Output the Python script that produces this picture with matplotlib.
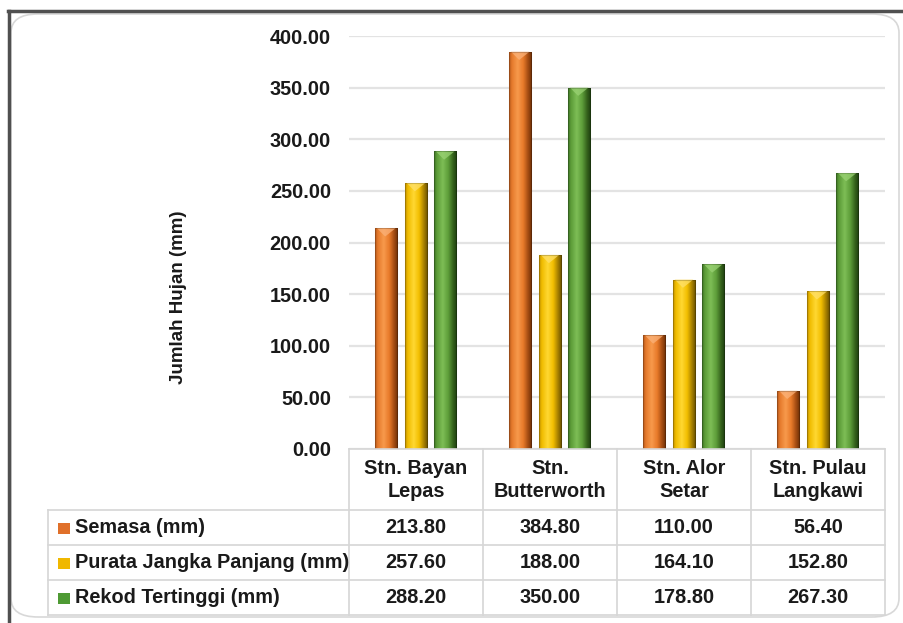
import matplotlib
matplotlib.use("Agg")
import matplotlib.pyplot as plt
import numpy as np
from matplotlib.colors import LinearSegmentedColormap
from matplotlib.patches import Polygon, Rectangle, FancyBboxPatch
from matplotlib.lines import Line2D
from matplotlib.transforms import blended_transform_factory

# rainfall per station (mm)
stations = ["Stn. Bayan\nLepas", "Stn.\nButterworth", "Stn. Alor\nSetar", "Stn. Pulau\nLangkawi"]
series_names = ["Semasa (mm)", "Purata Jangka Panjang (mm)", "Rekod Tertinggi (mm)"]
semasa = [213.80, 384.80, 110.00, 56.40]
purata = [257.60, 188.00, 164.10, 152.80]
rekod = [288.20, 350.00, 178.80, 267.30]
yticks = [0, 50, 100, 150, 200, 250, 300, 350, 400]

# left edge, base, highlight, base, dark edge, darkest
shades = [
    ["#B85A1C", "#E57A2C", "#F89A4C", "#E87A2A", "#A44C12", "#6E3008"],
    ["#C29200", "#F0BC00", "#FFD832", "#F2BE00", "#A47E00", "#6A5200"],
    ["#3F7426", "#5C9C38", "#7EBE56", "#5E9E3A", "#35621C", "#1F3E10"],
]
cap_colors = ["#FBB27A", "#FFE06A", "#9AD274"]
key_colors = ["#E0702A", "#F0B800", "#4E9A34"]

plt.rcParams["font.family"] = "Liberation Sans"
plt.rcParams["font.weight"] = "bold"
txt_c = "#1A1A1A"
fs = 14.3

W, H = 904, 623
fig = plt.figure(figsize=(W / 100, H / 100), dpi=100)

# outer frame and rounded chart area
fig.add_artist(Line2D([8 / W, 1], [1 - 11 / H, 1 - 11 / H], transform=fig.transFigure,
                      color="#505050", lw=2.5))
fig.add_artist(Line2D([9 / W, 9 / W], [0, 1 - 11 / H], transform=fig.transFigure,
                      color="#505050", lw=2.5))
fig.add_artist(FancyBboxPatch((11 / W, 6 / H), 888 / W, 603 / H, transform=fig.transFigure,
                              boxstyle="round,pad=0,rounding_size=0.03", fc="none",
                              ec="#D8D8D8", lw=1.2))

ax = fig.add_axes([349 / W, 1 - 449 / H, 536 / W, 413 / H])
ax.set_yticks(yticks)
ax.set_yticklabels([f"{v:.2f}" for v in yticks], fontsize=fs, color=txt_c)
ax.tick_params(axis="y", length=0, pad=13)
ax.set_xticks([])
for s in ax.spines.values():
    s.set_visible(False)
ax.yaxis.grid(True, color="#E3E3E3", lw=1.6)
ax.set_axisbelow(True)

fig.text(179 / W, 1 - 297 / H, "Jumlah Hujan (mm)", rotation=90, ha="center", va="center",
         fontsize=13.5, color=txt_c)

x = np.arange(len(stations))
offsets = [-0.222, 0.0, 0.218]
width = 0.165
grad = np.linspace(0, 1, 64).reshape(1, -1)

for i, vals in enumerate([semasa, purata, rekod]):
    cmap = LinearSegmentedColormap.from_list(
        f"s{i}", list(zip([0, 0.12, 0.38, 0.62, 0.84, 1.0], shades[i])))
    bars = ax.bar(x + offsets[i], vals, width, color="none", zorder=3)
    for b in bars:
        x0, w, h = b.get_x(), b.get_width(), b.get_height()
        im = ax.imshow(grad, extent=[x0, x0 + w, 0, h], aspect="auto", cmap=cmap,
                       origin="lower", zorder=3, interpolation="bilinear")
        im.set_clip_path(b)
        d = min(8, h * 0.5)
        ax.add_patch(Polygon([[x0 + w * 0.08, h], [x0 + w * 0.92, h], [x0 + w * 0.45, h - d]],
                             closed=True, fc=cap_colors[i], ec="none", alpha=0.75, zorder=4))
        ax.add_patch(Rectangle((x0, 0), w, h, fc="none", ec="#00000030", lw=0.8, zorder=4))
ax.set_xlim(-0.5, len(stations) - 0.5)
ax.set_ylim(0, 400)

# data table under the plot
tr = blended_transform_factory(ax.transData, fig.transFigure)
line_c = "#D6D6D6"
row_y = [449, 510, 545, 580, 615]
left_px = 48
x_left = ax.transData.inverted().transform((left_px, 0))[0]
for k, yy in enumerate(row_y):
    x_start = -0.5 if k == 0 else x_left
    fig.add_artist(Line2D([x_start, 3.5], [1 - yy / H] * 2, transform=tr, color=line_c, lw=1.2))
for b in np.arange(-0.5, len(stations), 1.0):
    fig.add_artist(Line2D([b, b], [1 - row_y[0] / H, 1 - row_y[-1] / H], transform=tr,
                          color=line_c, lw=1.2))
fig.add_artist(Line2D([left_px / W] * 2, [1 - row_y[1] / H, 1 - row_y[-1] / H],
                      transform=fig.transFigure, color=line_c, lw=1.2))

for j, name in enumerate(stations):
    fig.text(x[j], 1 - 480 / H, name, transform=tr, ha="center", va="center",
             fontsize=fs, color=txt_c, linespacing=1.25)

for i, vals in enumerate([semasa, purata, rekod]):
    yc = 1 - (row_y[i + 1] + row_y[i + 2]) / 2 / H
    fig.add_artist(Rectangle((58 / W, yc - 6 / H), 12 / W, 11 / H, transform=fig.transFigure,
                             fc=key_colors[i], ec="none"))
    fig.text(75 / W, yc, series_names[i], ha="left", va="center", fontsize=fs, color=txt_c)
    for j, v in enumerate(vals):
        fig.text(x[j], yc, f"{v:.2f}", transform=tr, ha="center", va="center",
                 fontsize=fs, color=txt_c)

fig.savefig("out.png", dpi=100)
